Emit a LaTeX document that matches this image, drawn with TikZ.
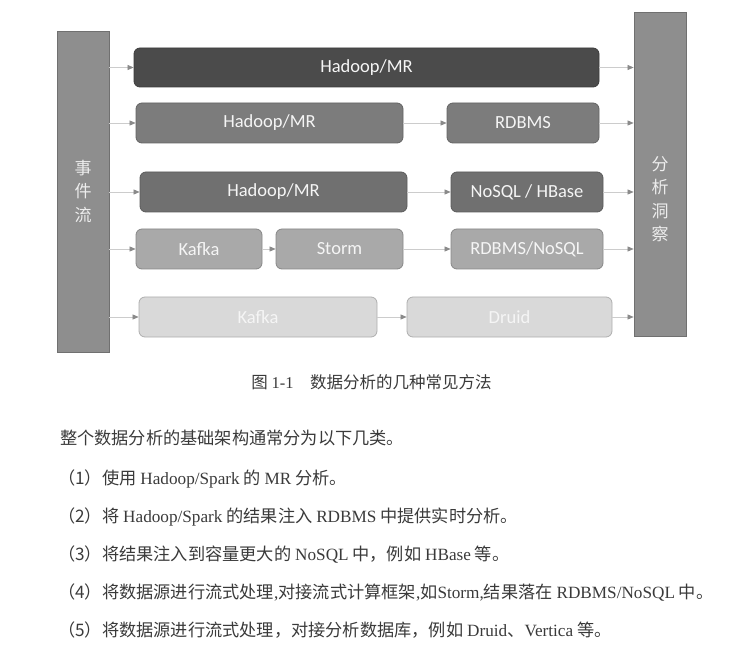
\documentclass[tikz,border=0pt]{standalone}
\usepackage{fontspec}
\setmainfont{Liberation Serif}
\newfontfamily\cjk{Noto Sans CJK SC}
\newfontfamily\boxfont{Carlito}
\usetikzlibrary{arrows.meta}

\newcommand{\lat}[1]{{\rmfamily #1}}

\definecolor{barfill}{HTML}{8E8E8E}
\definecolor{barline}{HTML}{707070}
\definecolor{toneA}{HTML}{4B4B4B}
\definecolor{toneB}{HTML}{7C7C7C}
\definecolor{toneC}{HTML}{707070}
\definecolor{toneD}{HTML}{A9A9A9}
\definecolor{toneE}{HTML}{D9D9D9}
\definecolor{flowline}{HTML}{CCCCCC}
\definecolor{tipgray}{HTML}{8A8A8A}
\definecolor{ink}{HTML}{3A3A3A}

\begin{document}
\begin{tikzpicture}[x=1pt, y=-1pt,
  bar/.style={draw=barline, fill=barfill, line width=0.8pt, minimum width=52pt, inner sep=0pt,
    text=white!93!black, align=center, font=\cjk\fontsize{17}{23.5}\selectfont},
  bartext/.style={inner sep=0pt, text=white!93!black, align=center, font=\cjk\fontsize{17}{23.5}\selectfont},
  stage/.style={draw=#1!80!black, fill=#1, rounded corners=6pt, line width=0.8pt, minimum height=40pt,
    inner sep=0pt, text=white!96!black, font=\boxfont\fontsize{18.5}{20}\selectfont},
  flow/.style={draw=flowline, line width=0.6pt, -{Triangle[length=6pt, width=5pt, color=tipgray]}},
  body/.style={anchor=west, inner sep=0pt, text=ink, font=\cjk\fontsize{17.2}{20}\selectfont},
  caption/.style={inner sep=0pt, text=ink, font=\cjk\fontsize{16.5}{20}\selectfont}]
  \useasboundingbox (0,0) rectangle (732,658);

  % Side bars
  \node[bar, minimum height=321pt] (events) at (83,191.5) {事\\件\\流};
  \node[bar, minimum height=324pt] (insight) at (660,174) {};
  \node[bartext] (insightlbl) at ([yshift=-25pt]insight.center) {分\\析\\洞\\察};

  % Processing paths
  \node[stage=toneA, minimum width=465pt, minimum height=39pt] (mrA) at (366.5,67.5) {Hadoop/MR};
  \node[stage=toneB, minimum width=267pt] (mrB) at (269.5,123) {Hadoop/MR};
  \node[stage=toneB, minimum width=152pt] (rdbmsB) at (523,123) {RDBMS};
  \node[stage=toneC, minimum width=267pt] (mrC) at (273.5,192) {Hadoop/MR};
  \node[stage=toneC, minimum width=152pt] (nosqlC) at (527,192) {NoSQL / HBase};
  \node[stage=toneD, minimum width=126pt] (kafkaD) at (199,249) {Kafka};
  \node[stage=toneD, minimum width=127pt] (stormD) at (339.5,249) {Storm};
  \node[stage=toneD, minimum width=152pt] (rdbmsD) at (527,249) {RDBMS/NoSQL};
  \node[stage=toneE, minimum width=238pt] (kafkaE) at (258,317) {Kafka};
  \node[stage=toneE, minimum width=205pt] (druidE) at (509.5,317) {Druid};

  % Flows
  \draw[flow] (events.east |- mrA.west) -- (mrA.west);
  \draw[flow] (mrA.east) -- (insight.west |- mrA.east);
  \draw[flow] (events.east |- mrB.west) -- (mrB.west);
  \draw[flow] (mrB.east) -- (rdbmsB.west);
  \draw[flow] (rdbmsB.east) -- (insight.west |- rdbmsB.east);
  \draw[flow] (events.east |- mrC.west) -- (mrC.west);
  \draw[flow] (mrC.east) -- (nosqlC.west);
  \draw[flow] (nosqlC.east) -- (insight.west |- nosqlC.east);
  \draw[flow] (events.east |- kafkaD.west) -- (kafkaD.west);
  \draw[flow] (kafkaD.east) -- (stormD.west);
  \draw[flow] (stormD.east) -- (rdbmsD.west);
  \draw[flow] (rdbmsD.east) -- (insight.west |- rdbmsD.east);
  \draw[flow] (events.east |- kafkaE.west) -- (kafkaE.west);
  \draw[flow] (kafkaE.east) -- (druidE.west);
  \draw[flow] (druidE.east) -- (insight.west |- druidE.east);

  % Caption and text
  \node[caption] (cap) at (371.5,382) {图 \lat{1-1}\quad 数据分析的几种常见方法};
  \node[body] (intro) at (60,438) {整个数据分析的基础架构通常分为以下几类。};
  \node[body] (item1) at (58,479) {（1）使用 \lat{Hadoop/Spark} 的 \lat{MR} 分析。};
  \node[body] (item2) at (58,517) {（2）将 \lat{Hadoop/Spark} 的结果注入 \lat{RDBMS} 中提供实时分析。};
  \node[body] (item3) at (58,555) {（3）将结果注入到容量更大的 \lat{NoSQL} 中，例如 \lat{HBase} 等。};
  \node[body] (item4) at (58,593) {（4）将数据源进行流式处理\lat{,}对接流式计算框架\lat{,}如\lat{Storm,}结果落在 \lat{RDBMS/NoSQL} 中。};
  \node[body] (item5) at (58,630) {（5）将数据源进行流式处理，对接分析数据库，例如 \lat{Druid}、\lat{Vertica} 等。};
\end{tikzpicture}
\end{document}
